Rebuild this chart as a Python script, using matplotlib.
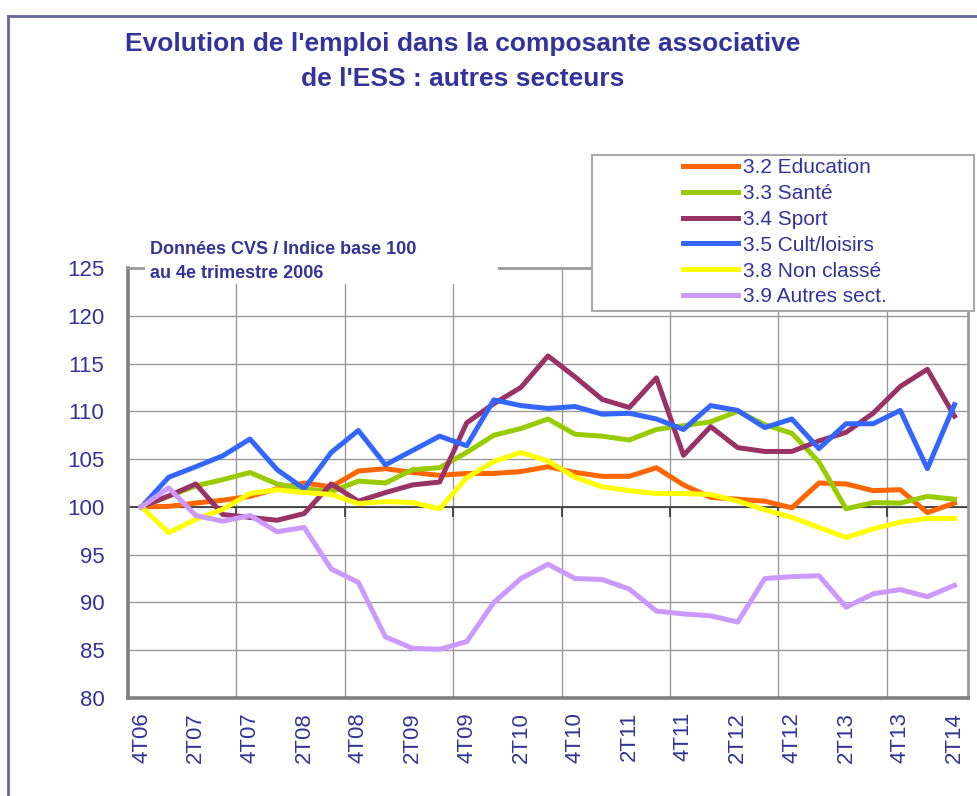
import matplotlib as mpl
import matplotlib.pyplot as plt
from matplotlib.lines import Line2D
from matplotlib.patches import Rectangle

mpl.rcParams["font.family"] = ["Liberation Sans", "DejaVu Sans"]

TXT = "#333399"

# trimestres 4T06 .. 2T14
quarters = ["4T06"]
for yy in range(7, 15):
    for q in range(1, 5):
        if yy == 14 and q > 2:
            break
        quarters.append(f"{q}T{yy:02d}")

education = [100.0, 100.05, 100.4, 100.7, 101.1, 101.9, 102.5, 102.1, 103.75, 104.0,
             103.6, 103.3, 103.5, 103.5, 103.7, 104.2, 103.6, 103.2, 103.2, 104.1,
             102.3, 101.0, 100.8, 100.6, 99.9, 102.5, 102.4, 101.7, 101.8, 99.4, 100.4]
sante = [100.0, 101.1, 102.2, 102.85, 103.6, 102.4, 101.9, 101.6, 102.7, 102.5,
         103.9, 104.1, 105.7, 107.5, 108.2, 109.2, 107.6, 107.4, 107.0, 108.1,
         108.5, 108.9, 110.0, 108.6, 107.7, 104.7, 99.8, 100.45, 100.4, 101.1, 100.8]
sport = [100.0, 101.15, 102.4, 99.2, 98.9, 98.6, 99.3, 102.4, 100.6, 101.5,
         102.3, 102.6, 108.8, 110.8, 112.5, 115.8, 113.6, 111.25, 110.4, 113.5,
         105.4, 108.4, 106.2, 105.8, 105.8, 106.9, 107.8, 109.8, 112.6, 114.4, 109.5]
culture = [100.0, 103.1, 104.2, 105.35, 107.1, 103.9, 101.9, 105.7, 108.0, 104.4,
           105.9, 107.4, 106.4, 111.2, 110.6, 110.3, 110.5, 109.7, 109.8, 109.2,
           108.1, 110.6, 110.1, 108.3, 109.2, 106.1, 108.7, 108.7, 110.1, 104.0, 110.7]
non_classe = [100.0, 97.3, 98.7, 99.75, 101.4, 101.8, 101.5, 101.3, 100.35, 100.55,
              100.45, 99.8, 103.05, 104.75, 105.7, 104.8, 103.1, 102.1, 101.7, 101.4,
              101.4, 101.3, 100.6, 99.7, 98.9, 97.85, 96.8, 97.7, 98.4, 98.8, 98.8]
autres = [100.0, 102.0, 99.1, 98.5, 99.1, 97.4, 97.85, 93.5, 92.1, 86.4,
          85.2, 85.1, 85.9, 90.0, 92.5, 94.0, 92.5, 92.4, 91.4, 89.1,
          88.8, 88.6, 87.95, 92.5, 92.7, 92.8, 89.5, 90.9, 91.35, 90.6, 91.8]

series = [
    ("3.2 Education", education, "#FF6600"),
    ("3.3 Santé", sante, "#99CC00"),
    ("3.4 Sport", sport, "#993366"),
    ("3.5 Cult/loisirs", culture, "#3366FF"),
    ("3.8 Non classé", non_classe, "#FFFF00"),
    ("3.9 Autres sect.", autres, "#CC99FF"),
]

W, H = 978, 796
fig = plt.figure(figsize=(W / 100, H / 100), dpi=100)
ax = fig.add_axes([128 / W, 1 - 698 / H, 840 / W, 430 / H])

x = list(range(len(quarters)))
handles = []
for name, vals, col in series:
    ln, = ax.plot(x, vals, color=col, lw=3.6, label=name, zorder=3)
    handles.append(ln)

ax.set_xlim(-0.5, len(quarters) - 0.5)
ax.set_ylim(80, 125)
ax.set_yticks(range(80, 126, 5))

# grille Excel
for yv in range(85, 125, 5):
    ax.axhline(yv, color="#999999", lw=1, zorder=1)
vgrid = [3.5 + 4 * k for k in range(7)]
for xv in vgrid:
    ax.axvline(xv, color="#999999", lw=1, zorder=1)

# axe des catégories qui croise à 100
ax.axhline(100, color="#404040", lw=1.3, zorder=2)
ax.plot([-0.5] + vgrid, [100] * (len(vgrid) + 1), ls="none", marker=3,
        ms=7, mew=1.3, color="#404040", zorder=2, clip_on=False)

ax.set_xticks(x[::2])
ax.set_xticklabels(quarters[::2], rotation=90, va="top", ha="center")
ax.tick_params(axis="x", length=0, pad=10, labelsize=16, labelcolor=TXT)
ax.tick_params(axis="y", length=0, pad=17, labelsize=16, labelcolor=TXT)

for side in ["left", "bottom"]:
    ax.spines[side].set_color("#808080")
    ax.spines[side].set_linewidth(2.6)
for side in ["top", "right"]:
    ax.spines[side].set_color("#999999")
    ax.spines[side].set_linewidth(2)

# cadre extérieur
fig.add_artist(Line2D([8 / W, 8 / W], [0, 1 - 16 / H], color="#666699", lw=2))
fig.add_artist(Line2D([8 / W, 1], [1 - 16 / H, 1 - 16 / H], color="#666699", lw=2))

fig.text(463 / W, 1 - 44 / H, "Evolution de l'emploi dans la composante associative",
         ha="center", va="center", fontsize=19, fontweight="bold", color=TXT)
fig.text(463 / W, 1 - 79 / H, "de l'ESS : autres secteurs",
         ha="center", va="center", fontsize=19, fontweight="bold", color=TXT)

# note (fond blanc qui masque le cadre)
fig.add_artist(Rectangle((145 / W, 1 - 284 / H), 353 / W, 48 / H,
                         transform=fig.transFigure, facecolor="white",
                         edgecolor="none", zorder=4))
fig.text(150 / W, 1 - 249 / H, "Données CVS / Indice base 100", ha="left",
         va="center", fontsize=13, fontweight="bold", color=TXT, zorder=5)
fig.text(150 / W, 1 - 273 / H, "au 4e trimestre 2006", ha="left",
         va="center", fontsize=13, fontweight="bold", color=TXT, zorder=5)

# légende
fig.add_artist(Rectangle((592 / W, 1 - 311 / H), 382 / W, 156 / H,
                         transform=fig.transFigure, facecolor="white",
                         edgecolor="#AAAAAA", lw=1.5, zorder=4))
leg = fig.legend(handles=handles, loc="upper left",
                 bbox_to_anchor=(680 / W, 1 - 155 / H), frameon=False,
                 fontsize=15, handlelength=2.65, handletextpad=0.24,
                 labelspacing=0.33, borderpad=0.15, borderaxespad=0)
leg.set_zorder(6)
for t in leg.get_texts():
    t.set_color(TXT)

fig.savefig("out.png", dpi=100)
